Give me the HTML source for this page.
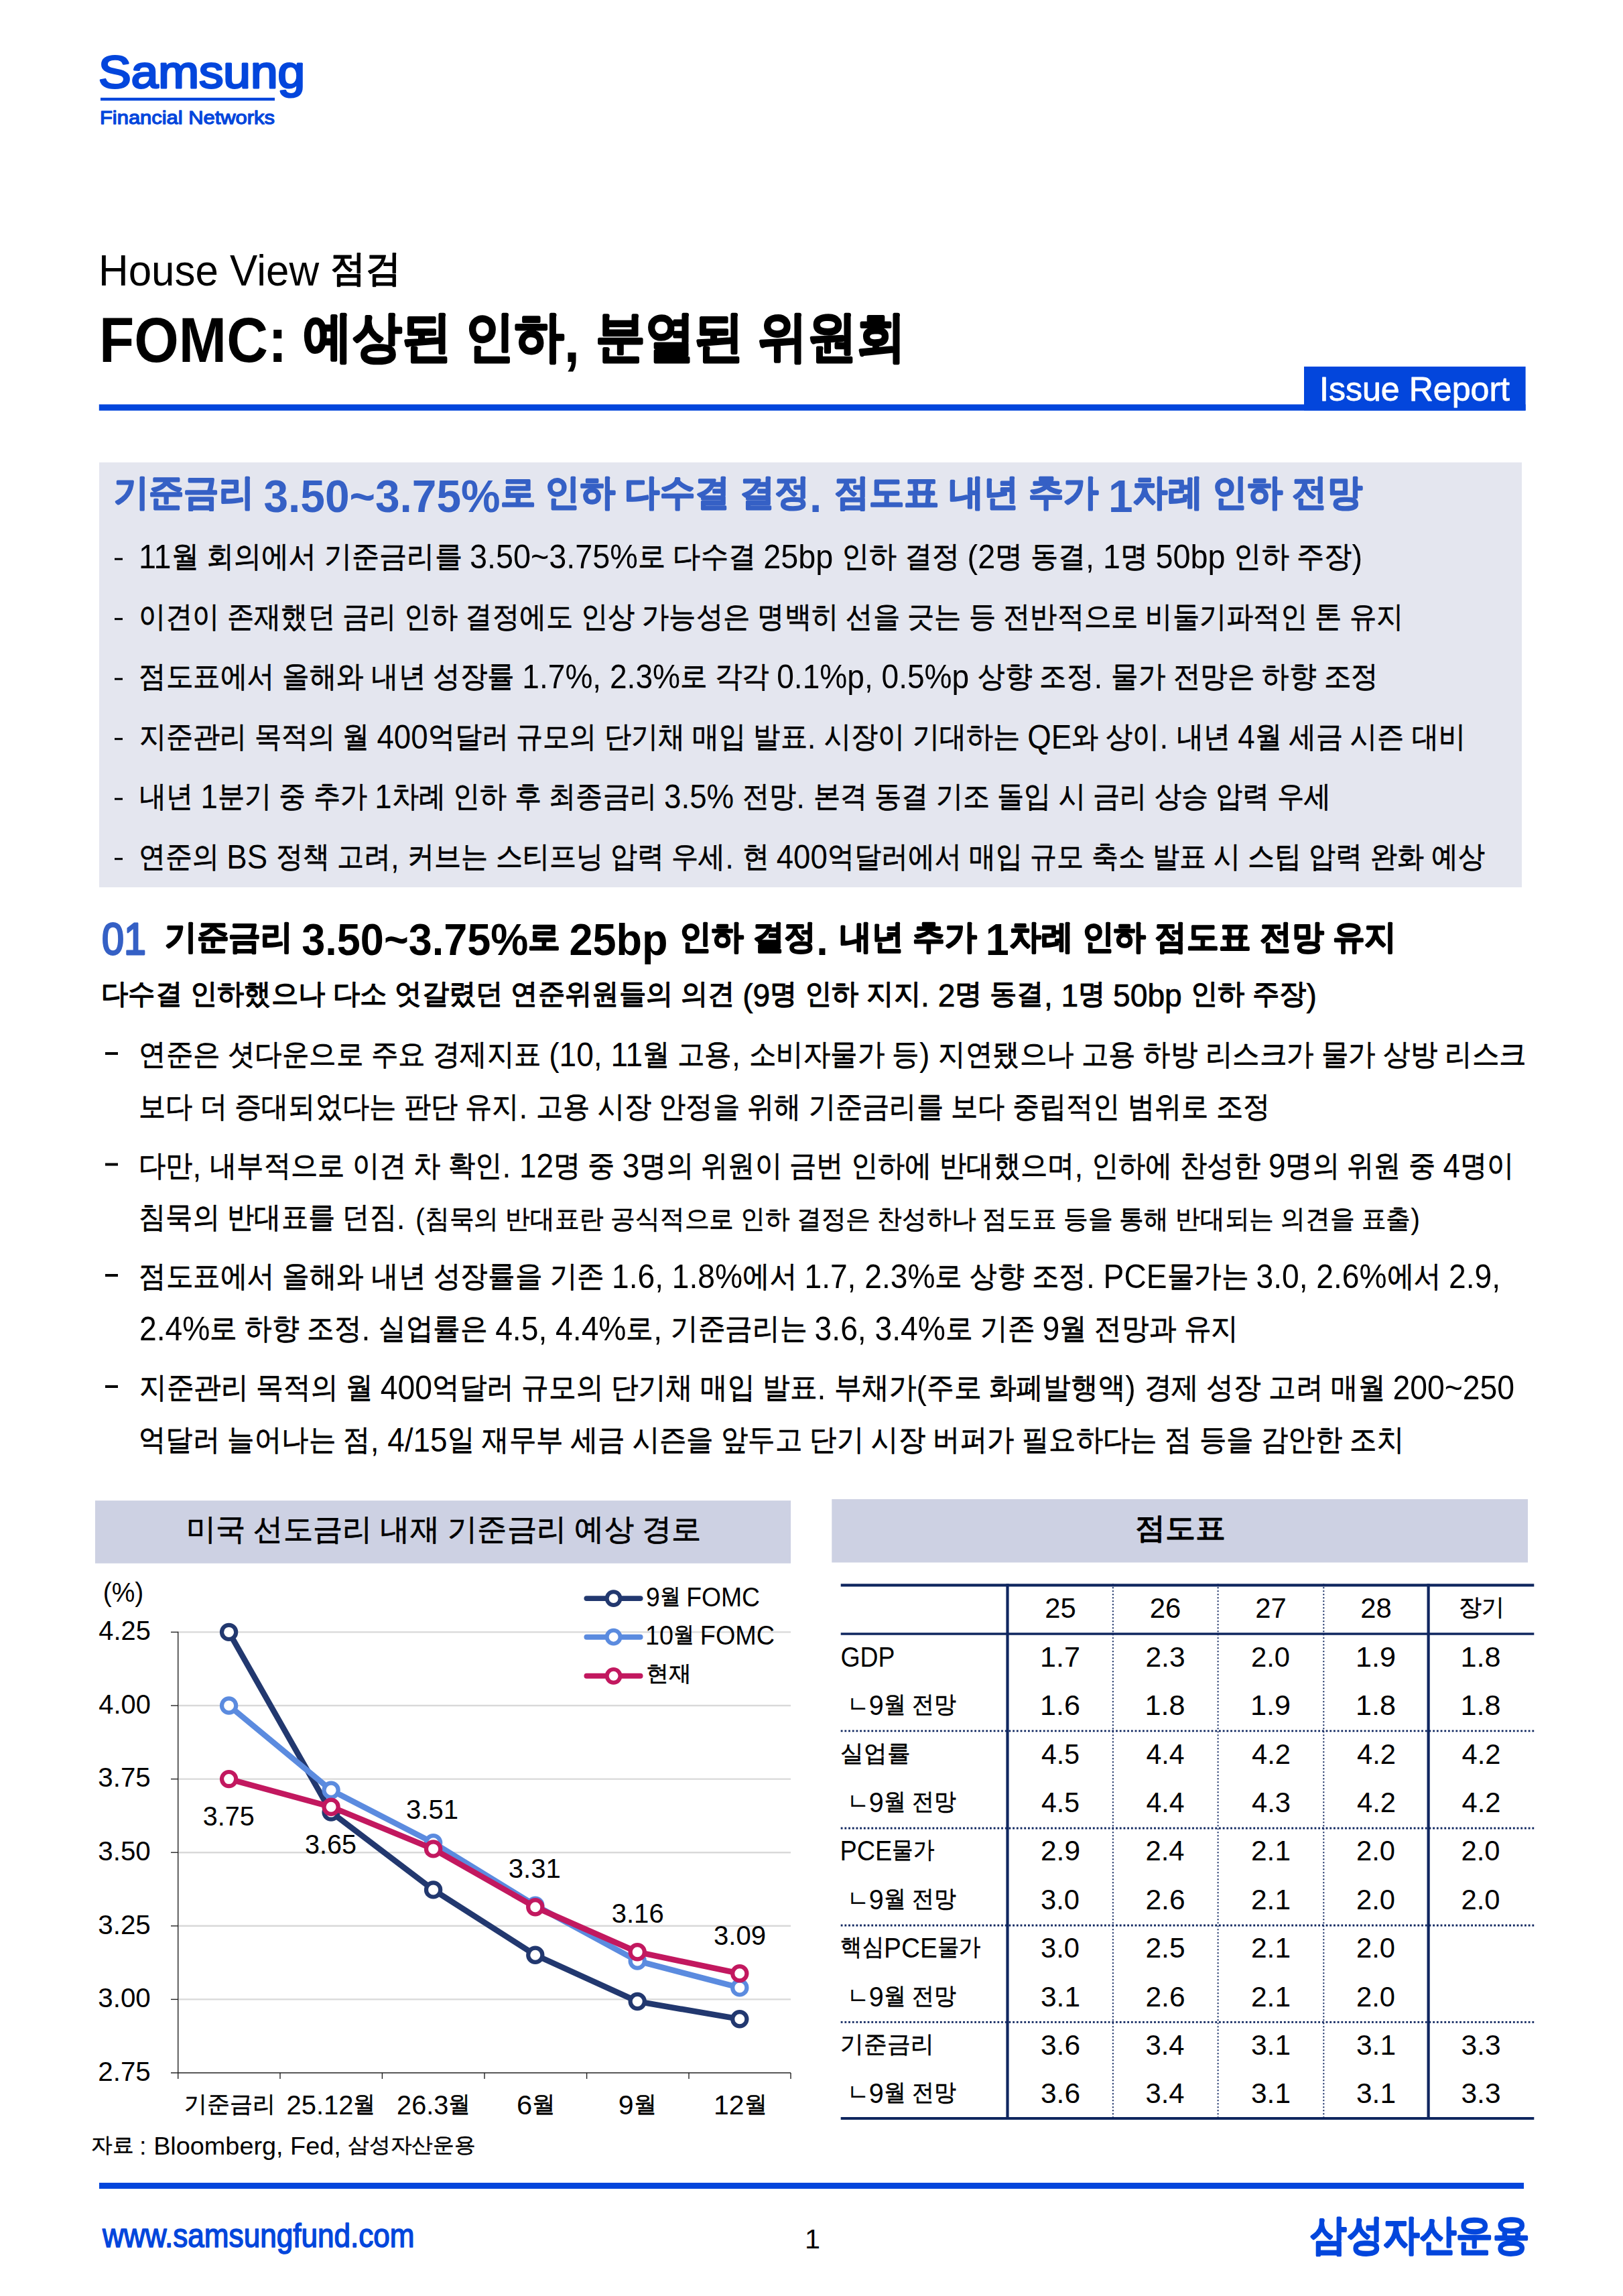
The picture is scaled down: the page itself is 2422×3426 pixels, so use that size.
<!DOCTYPE html>
<html><head><meta charset="utf-8"><title>FOMC: 예상된 인하, 분열된 위원회</title>
<style>
html,body{margin:0;padding:0;background:#fff;}
body{width:2422px;height:3426px;overflow:hidden;}
svg{display:block;}
text{font-family:"Liberation Sans",sans-serif;white-space:pre;}
.tofu .h{font-size:1.08em;baseline-shift:-0.04em;stroke-width:0.04em}.tofu text[font-weight="bold"] .h{stroke-width:0.06em}
</style></head><body>
<svg width="2422" height="3426" viewBox="0 0 2422 3426">
<rect x="0" y="0" width="2422" height="3426" fill="#fff"/>
<text x="147.0" y="131.2" font-size="68" fill="#0346dc" textLength="308.0" lengthAdjust="spacingAndGlyphs"><tspan stroke="#0346dc" stroke-width="3.00" stroke-linejoin="round">Samsung</tspan></text>
<rect x="150.0" y="145.8" width="260.0" height="4.4" fill="#0346dc"/>
<text x="149.0" y="184.6" font-size="28" fill="#0346dc" textLength="261.0" lengthAdjust="spacingAndGlyphs"><tspan stroke="#0346dc" stroke-width="1.30" stroke-linejoin="round">Financial Networks</tspan></text>
<text x="147.0" y="425.8" font-size="65" fill="#000" textLength="451.0" lengthAdjust="spacingAndGlyphs">House View <tspan class="h" font-size="55.0" baseline-shift="7.3" stroke="#000" stroke-width="1.80" stroke-linejoin="round">점검</tspan></text>
<text x="148.0" y="540.4" font-size="94" fill="#000" font-weight="bold" textLength="1204.0" lengthAdjust="spacingAndGlyphs">FOMC: <tspan class="h" font-size="81.2" baseline-shift="10.3" stroke="#000" stroke-width="2.82" stroke-linejoin="round">예상된 인하</tspan>, <tspan class="h" font-size="81.2" baseline-shift="10.3" stroke="#000" stroke-width="2.82" stroke-linejoin="round">분열된 위원회</tspan></text>
<rect x="147.8" y="603.4" width="2128.8" height="9.3" fill="#0346dc"/>
<rect x="1946.0" y="547.0" width="330.6" height="65.4" fill="#0346dc"/>
<text x="1969.0" y="597.6" font-size="50" fill="#fff" textLength="284.0" lengthAdjust="spacingAndGlyphs"><tspan stroke="#fff" stroke-width="0.80" stroke-linejoin="round">Issue Report</tspan></text>
<rect x="148.0" y="690.0" width="2123.0" height="634.0" fill="#e4e6ef"/>
<text x="170.0" y="763.6" font-size="68" fill="#3560c5" font-weight="bold" textLength="1863.0" lengthAdjust="spacingAndGlyphs"><tspan class="h" font-size="54.0" baseline-shift="10.8" stroke="#3560c5" stroke-width="2.04" stroke-linejoin="round">기준금리 </tspan>3.50~3.75%<tspan class="h" font-size="54.0" baseline-shift="10.8" stroke="#3560c5" stroke-width="2.04" stroke-linejoin="round">로 인하 다수결 결정</tspan>. <tspan class="h" font-size="54.0" baseline-shift="10.8" stroke="#3560c5" stroke-width="2.04" stroke-linejoin="round">점도표 내년 추가 </tspan>1<tspan class="h" font-size="54.0" baseline-shift="10.8" stroke="#3560c5" stroke-width="2.04" stroke-linejoin="round">차례 인하 전망</tspan></text>
<rect x="171.0" y="832.7" width="12.0" height="3.0" fill="#000"/>
<text x="207.0" y="848.2" font-size="50" fill="#000" textLength="1826.0" lengthAdjust="spacingAndGlyphs">11<tspan class="h" font-size="44.0" baseline-shift="2.8" stroke="#000" stroke-width="0.70" stroke-linejoin="round">월 회의에서 기준금리를 </tspan>3.50~3.75%<tspan class="h" font-size="44.0" baseline-shift="2.8" stroke="#000" stroke-width="0.70" stroke-linejoin="round">로 다수결 </tspan>25bp <tspan class="h" font-size="44.0" baseline-shift="2.8" stroke="#000" stroke-width="0.70" stroke-linejoin="round">인하 결정 </tspan>(2<tspan class="h" font-size="44.0" baseline-shift="2.8" stroke="#000" stroke-width="0.70" stroke-linejoin="round">명 동결</tspan>, 1<tspan class="h" font-size="44.0" baseline-shift="2.8" stroke="#000" stroke-width="0.70" stroke-linejoin="round">명 </tspan>50bp <tspan class="h" font-size="44.0" baseline-shift="2.8" stroke="#000" stroke-width="0.70" stroke-linejoin="round">인하 주장</tspan>)</text>
<rect x="171.0" y="922.2" width="12.0" height="3.0" fill="#000"/>
<text x="207.0" y="937.7" font-size="50" fill="#000" textLength="1887.0" lengthAdjust="spacingAndGlyphs"><tspan class="h" font-size="44.0" baseline-shift="2.8" stroke="#000" stroke-width="0.70" stroke-linejoin="round">이견이 존재했던 금리 인하 결정에도 인상 가능성은 명백히 선을 긋는 등 전반적으로 비둘기파적인 톤 유지</tspan></text>
<rect x="171.0" y="1011.7" width="12.0" height="3.0" fill="#000"/>
<text x="207.0" y="1027.2" font-size="50" fill="#000" textLength="1850.0" lengthAdjust="spacingAndGlyphs"><tspan class="h" font-size="44.0" baseline-shift="2.8" stroke="#000" stroke-width="0.70" stroke-linejoin="round">점도표에서 올해와 내년 성장률 </tspan>1.7%, 2.3%<tspan class="h" font-size="44.0" baseline-shift="2.8" stroke="#000" stroke-width="0.70" stroke-linejoin="round">로 각각 </tspan>0.1%p, 0.5%p <tspan class="h" font-size="44.0" baseline-shift="2.8" stroke="#000" stroke-width="0.70" stroke-linejoin="round">상향 조정</tspan>. <tspan class="h" font-size="44.0" baseline-shift="2.8" stroke="#000" stroke-width="0.70" stroke-linejoin="round">물가 전망은 하향 조정</tspan></text>
<rect x="171.0" y="1101.2" width="12.0" height="3.0" fill="#000"/>
<text x="208.0" y="1116.7" font-size="50" fill="#000" textLength="1979.0" lengthAdjust="spacingAndGlyphs"><tspan class="h" font-size="44.0" baseline-shift="2.8" stroke="#000" stroke-width="0.70" stroke-linejoin="round">지준관리 목적의 월 </tspan>400<tspan class="h" font-size="44.0" baseline-shift="2.8" stroke="#000" stroke-width="0.70" stroke-linejoin="round">억달러 규모의 단기채 매입 발표</tspan>. <tspan class="h" font-size="44.0" baseline-shift="2.8" stroke="#000" stroke-width="0.70" stroke-linejoin="round">시장이 기대하는 </tspan>QE<tspan class="h" font-size="44.0" baseline-shift="2.8" stroke="#000" stroke-width="0.70" stroke-linejoin="round">와 상이</tspan>. <tspan class="h" font-size="44.0" baseline-shift="2.8" stroke="#000" stroke-width="0.70" stroke-linejoin="round">내년 </tspan>4<tspan class="h" font-size="44.0" baseline-shift="2.8" stroke="#000" stroke-width="0.70" stroke-linejoin="round">월 세금 시즌 대비</tspan></text>
<rect x="171.0" y="1190.7" width="12.0" height="3.0" fill="#000"/>
<text x="208.0" y="1206.2" font-size="50" fill="#000" textLength="1778.0" lengthAdjust="spacingAndGlyphs"><tspan class="h" font-size="44.0" baseline-shift="2.8" stroke="#000" stroke-width="0.70" stroke-linejoin="round">내년 </tspan>1<tspan class="h" font-size="44.0" baseline-shift="2.8" stroke="#000" stroke-width="0.70" stroke-linejoin="round">분기 중 추가 </tspan>1<tspan class="h" font-size="44.0" baseline-shift="2.8" stroke="#000" stroke-width="0.70" stroke-linejoin="round">차례 인하 후 최종금리 </tspan>3.5% <tspan class="h" font-size="44.0" baseline-shift="2.8" stroke="#000" stroke-width="0.70" stroke-linejoin="round">전망</tspan>. <tspan class="h" font-size="44.0" baseline-shift="2.8" stroke="#000" stroke-width="0.70" stroke-linejoin="round">본격 동결 기조 돌입 시 금리 상승 압력 우세</tspan></text>
<rect x="171.0" y="1280.2" width="12.0" height="3.0" fill="#000"/>
<text x="207.0" y="1295.7" font-size="50" fill="#000" textLength="2009.0" lengthAdjust="spacingAndGlyphs"><tspan class="h" font-size="44.0" baseline-shift="2.8" stroke="#000" stroke-width="0.70" stroke-linejoin="round">연준의 </tspan>BS <tspan class="h" font-size="44.0" baseline-shift="2.8" stroke="#000" stroke-width="0.70" stroke-linejoin="round">정책 고려</tspan>, <tspan class="h" font-size="44.0" baseline-shift="2.8" stroke="#000" stroke-width="0.70" stroke-linejoin="round">커브는 스티프닝 압력 우세</tspan>. <tspan class="h" font-size="44.0" baseline-shift="2.8" stroke="#000" stroke-width="0.70" stroke-linejoin="round">현 </tspan>400<tspan class="h" font-size="44.0" baseline-shift="2.8" stroke="#000" stroke-width="0.70" stroke-linejoin="round">억달러에서 매입 규모 축소 발표 시 스팁 압력 완화 예상</tspan></text>
<text x="152.0" y="1423.6" font-size="67" fill="#3560c5" textLength="66.0" lengthAdjust="spacingAndGlyphs"><tspan stroke="#3560c5" stroke-width="2.80" stroke-linejoin="round">01</tspan></text>
<text x="246.0" y="1424.5" font-size="66" fill="#000" font-weight="bold" textLength="1838.0" lengthAdjust="spacingAndGlyphs"><tspan class="h" font-size="50.0" baseline-shift="9.9" stroke="#000" stroke-width="1.98" stroke-linejoin="round">기준금리 </tspan>3.50~3.75%<tspan class="h" font-size="50.0" baseline-shift="9.9" stroke="#000" stroke-width="1.98" stroke-linejoin="round">로 </tspan>25bp <tspan class="h" font-size="50.0" baseline-shift="9.9" stroke="#000" stroke-width="1.98" stroke-linejoin="round">인하 결정</tspan>. <tspan class="h" font-size="50.0" baseline-shift="9.9" stroke="#000" stroke-width="1.98" stroke-linejoin="round">내년 추가 </tspan>1<tspan class="h" font-size="50.0" baseline-shift="9.9" stroke="#000" stroke-width="1.98" stroke-linejoin="round">차례 인하 점도표 전망 유지</tspan></text>
<text x="151.0" y="1502.0" font-size="48" fill="#000" textLength="1814.0" lengthAdjust="spacingAndGlyphs"><tspan class="h" font-size="42.4" baseline-shift="5.1" stroke="#000" stroke-width="1.44" stroke-linejoin="round">다수결 인하했으나 다소 엇갈렸던 연준위원들의 의견 </tspan><tspan stroke="#000" stroke-width="0.70" stroke-linejoin="round">(9</tspan><tspan class="h" font-size="42.4" baseline-shift="5.1" stroke="#000" stroke-width="1.44" stroke-linejoin="round">명 인하 지지</tspan><tspan stroke="#000" stroke-width="0.70" stroke-linejoin="round">. 2</tspan><tspan class="h" font-size="42.4" baseline-shift="5.1" stroke="#000" stroke-width="1.44" stroke-linejoin="round">명 동결</tspan><tspan stroke="#000" stroke-width="0.70" stroke-linejoin="round">, 1</tspan><tspan class="h" font-size="42.4" baseline-shift="5.1" stroke="#000" stroke-width="1.44" stroke-linejoin="round">명 </tspan><tspan stroke="#000" stroke-width="0.70" stroke-linejoin="round">50bp </tspan><tspan class="h" font-size="42.4" baseline-shift="5.1" stroke="#000" stroke-width="1.44" stroke-linejoin="round">인하 주장</tspan><tspan stroke="#000" stroke-width="0.70" stroke-linejoin="round">)</tspan></text>
<rect x="157.0" y="1570.0" width="19.0" height="4.0" fill="#000"/>
<text x="207.0" y="1591.0" font-size="50" fill="#000" textLength="2071.0" lengthAdjust="spacingAndGlyphs"><tspan class="h" font-size="44.0" baseline-shift="2.8" stroke="#000" stroke-width="0.70" stroke-linejoin="round">연준은 셧다운으로 주요 경제지표 </tspan>(10, 11<tspan class="h" font-size="44.0" baseline-shift="2.8" stroke="#000" stroke-width="0.70" stroke-linejoin="round">월 고용</tspan>, <tspan class="h" font-size="44.0" baseline-shift="2.8" stroke="#000" stroke-width="0.70" stroke-linejoin="round">소비자물가 등</tspan>) <tspan class="h" font-size="44.0" baseline-shift="2.8" stroke="#000" stroke-width="0.70" stroke-linejoin="round">지연됐으나 고용 하방 리스크가 물가 상방 리스크</tspan></text>
<text x="207.0" y="1668.5" font-size="50" fill="#000" textLength="1688.0" lengthAdjust="spacingAndGlyphs"><tspan class="h" font-size="44.0" baseline-shift="2.8" stroke="#000" stroke-width="0.70" stroke-linejoin="round">보다 더 증대되었다는 판단 유지</tspan>. <tspan class="h" font-size="44.0" baseline-shift="2.8" stroke="#000" stroke-width="0.70" stroke-linejoin="round">고용 시장 안정을 위해 기준금리를 보다 중립적인 범위로 조정</tspan></text>
<rect x="157.0" y="1735.5" width="19.0" height="4.0" fill="#000"/>
<text x="207.0" y="1756.5" font-size="50" fill="#000" textLength="2052.5" lengthAdjust="spacingAndGlyphs"><tspan class="h" font-size="44.0" baseline-shift="2.8" stroke="#000" stroke-width="0.70" stroke-linejoin="round">다만</tspan>, <tspan class="h" font-size="44.0" baseline-shift="2.8" stroke="#000" stroke-width="0.70" stroke-linejoin="round">내부적으로 이견 차 확인</tspan>. 12<tspan class="h" font-size="44.0" baseline-shift="2.8" stroke="#000" stroke-width="0.70" stroke-linejoin="round">명 중 </tspan>3<tspan class="h" font-size="44.0" baseline-shift="2.8" stroke="#000" stroke-width="0.70" stroke-linejoin="round">명의 위원이 금번 인하에 반대했으며</tspan>, <tspan class="h" font-size="44.0" baseline-shift="2.8" stroke="#000" stroke-width="0.70" stroke-linejoin="round">인하에 찬성한 </tspan>9<tspan class="h" font-size="44.0" baseline-shift="2.8" stroke="#000" stroke-width="0.70" stroke-linejoin="round">명의 위원 중 </tspan>4<tspan class="h" font-size="44.0" baseline-shift="2.8" stroke="#000" stroke-width="0.70" stroke-linejoin="round">명이</tspan></text>
<text x="207.0" y="1834.0" font-size="50" fill="#000" textLength="397.5" lengthAdjust="spacingAndGlyphs"><tspan class="h" font-size="44.0" baseline-shift="2.8" stroke="#000" stroke-width="0.70" stroke-linejoin="round">침묵의 반대표를 던짐</tspan>.</text>
<text x="620.0" y="1834.0" font-size="44" fill="#000" textLength="1499.0" lengthAdjust="spacingAndGlyphs">(<tspan class="h" font-size="38.7" baseline-shift="2.5" stroke="#000" stroke-width="0.62" stroke-linejoin="round">침묵의 반대표란 공식적으로 인하 결정은 찬성하나 점도표 등을 통해 반대되는 의견을 표출</tspan>)</text>
<rect x="157.0" y="1901.0" width="19.0" height="4.0" fill="#000"/>
<text x="207.0" y="1922.0" font-size="50" fill="#000" textLength="2032.0" lengthAdjust="spacingAndGlyphs"><tspan class="h" font-size="44.0" baseline-shift="2.8" stroke="#000" stroke-width="0.70" stroke-linejoin="round">점도표에서 올해와 내년 성장률을 기존 </tspan>1.6, 1.8%<tspan class="h" font-size="44.0" baseline-shift="2.8" stroke="#000" stroke-width="0.70" stroke-linejoin="round">에서 </tspan>1.7, 2.3%<tspan class="h" font-size="44.0" baseline-shift="2.8" stroke="#000" stroke-width="0.70" stroke-linejoin="round">로 상향 조정</tspan>. PCE<tspan class="h" font-size="44.0" baseline-shift="2.8" stroke="#000" stroke-width="0.70" stroke-linejoin="round">물가는 </tspan>3.0, 2.6%<tspan class="h" font-size="44.0" baseline-shift="2.8" stroke="#000" stroke-width="0.70" stroke-linejoin="round">에서 </tspan>2.9,</text>
<text x="208.0" y="2000.0" font-size="50" fill="#000" textLength="1640.0" lengthAdjust="spacingAndGlyphs">2.4%<tspan class="h" font-size="44.0" baseline-shift="2.8" stroke="#000" stroke-width="0.70" stroke-linejoin="round">로 하향 조정</tspan>. <tspan class="h" font-size="44.0" baseline-shift="2.8" stroke="#000" stroke-width="0.70" stroke-linejoin="round">실업률은 </tspan>4.5, 4.4%<tspan class="h" font-size="44.0" baseline-shift="2.8" stroke="#000" stroke-width="0.70" stroke-linejoin="round">로</tspan>, <tspan class="h" font-size="44.0" baseline-shift="2.8" stroke="#000" stroke-width="0.70" stroke-linejoin="round">기준금리는 </tspan>3.6, 3.4%<tspan class="h" font-size="44.0" baseline-shift="2.8" stroke="#000" stroke-width="0.70" stroke-linejoin="round">로 기존 </tspan>9<tspan class="h" font-size="44.0" baseline-shift="2.8" stroke="#000" stroke-width="0.70" stroke-linejoin="round">월 전망과 유지</tspan></text>
<rect x="157.0" y="2067.0" width="19.0" height="4.0" fill="#000"/>
<text x="208.0" y="2088.0" font-size="50" fill="#000" textLength="2052.0" lengthAdjust="spacingAndGlyphs"><tspan class="h" font-size="44.0" baseline-shift="2.8" stroke="#000" stroke-width="0.70" stroke-linejoin="round">지준관리 목적의 월 </tspan>400<tspan class="h" font-size="44.0" baseline-shift="2.8" stroke="#000" stroke-width="0.70" stroke-linejoin="round">억달러 규모의 단기채 매입 발표</tspan>. <tspan class="h" font-size="44.0" baseline-shift="2.8" stroke="#000" stroke-width="0.70" stroke-linejoin="round">부채가</tspan>(<tspan class="h" font-size="44.0" baseline-shift="2.8" stroke="#000" stroke-width="0.70" stroke-linejoin="round">주로 화폐발행액</tspan>) <tspan class="h" font-size="44.0" baseline-shift="2.8" stroke="#000" stroke-width="0.70" stroke-linejoin="round">경제 성장 고려 매월 </tspan>200~250</text>
<text x="207.0" y="2166.0" font-size="50" fill="#000" textLength="1888.0" lengthAdjust="spacingAndGlyphs"><tspan class="h" font-size="44.0" baseline-shift="2.8" stroke="#000" stroke-width="0.70" stroke-linejoin="round">억달러 늘어나는 점</tspan>, 4/15<tspan class="h" font-size="44.0" baseline-shift="2.8" stroke="#000" stroke-width="0.70" stroke-linejoin="round">일 재무부 세금 시즌을 앞두고 단기 시장 버퍼가 필요하다는 점 등을 감안한 조치</tspan></text>
<rect x="142.0" y="2239.1" width="1038.1" height="93.7" fill="#cdd1e3"/>
<text x="277.6" y="2302.4" font-size="54" fill="#000" textLength="769.0" lengthAdjust="spacingAndGlyphs"><tspan class="h" font-size="44.8" baseline-shift="5.4" stroke="#000" stroke-width="0.76" stroke-linejoin="round">미국 선도금리 내재 기준금리 예상 경로</tspan></text>
<line x1="265.7" y1="2435.4" x2="1180.0" y2="2435.4" stroke="#d9d9d9" stroke-width="2.4" />
<line x1="255.0" y1="2435.4" x2="265.7" y2="2435.4" stroke="#222" stroke-width="1.4" />
<line x1="265.7" y1="2545.0" x2="1180.0" y2="2545.0" stroke="#d9d9d9" stroke-width="2.4" />
<line x1="255.0" y1="2545.0" x2="265.7" y2="2545.0" stroke="#222" stroke-width="1.4" />
<line x1="265.7" y1="2654.6" x2="1180.0" y2="2654.6" stroke="#d9d9d9" stroke-width="2.4" />
<line x1="255.0" y1="2654.6" x2="265.7" y2="2654.6" stroke="#222" stroke-width="1.4" />
<line x1="265.7" y1="2764.2" x2="1180.0" y2="2764.2" stroke="#d9d9d9" stroke-width="2.4" />
<line x1="255.0" y1="2764.2" x2="265.7" y2="2764.2" stroke="#222" stroke-width="1.4" />
<line x1="265.7" y1="2873.8" x2="1180.0" y2="2873.8" stroke="#d9d9d9" stroke-width="2.4" />
<line x1="255.0" y1="2873.8" x2="265.7" y2="2873.8" stroke="#222" stroke-width="1.4" />
<line x1="265.7" y1="2983.4" x2="1180.0" y2="2983.4" stroke="#d9d9d9" stroke-width="2.4" />
<line x1="255.0" y1="2983.4" x2="265.7" y2="2983.4" stroke="#222" stroke-width="1.4" />
<line x1="265.7" y1="2434.7" x2="265.7" y2="3093.0" stroke="#222" stroke-width="1.4" />
<line x1="255.0" y1="3093.0" x2="1180.0" y2="3093.0" stroke="#222" stroke-width="1.4" />
<line x1="265.7" y1="3093.0" x2="265.7" y2="3102.0" stroke="#222" stroke-width="1.4" />
<line x1="418.0" y1="3093.0" x2="418.0" y2="3102.0" stroke="#222" stroke-width="1.4" />
<line x1="570.4" y1="3093.0" x2="570.4" y2="3102.0" stroke="#222" stroke-width="1.4" />
<line x1="723.0" y1="3093.0" x2="723.0" y2="3102.0" stroke="#222" stroke-width="1.4" />
<line x1="875.6" y1="3093.0" x2="875.6" y2="3102.0" stroke="#222" stroke-width="1.4" />
<line x1="1028.0" y1="3093.0" x2="1028.0" y2="3102.0" stroke="#222" stroke-width="1.4" />
<line x1="1180.0" y1="3093.0" x2="1180.0" y2="3102.0" stroke="#222" stroke-width="1.4" />
<text x="147.3" y="2447.1" font-size="41" fill="#000" textLength="77.5" lengthAdjust="spacingAndGlyphs">4.25</text>
<text x="147.3" y="2556.7" font-size="41" fill="#000" textLength="77.5" lengthAdjust="spacingAndGlyphs">4.00</text>
<text x="146.3" y="2666.3" font-size="41" fill="#000" textLength="78.5" lengthAdjust="spacingAndGlyphs">3.75</text>
<text x="146.3" y="2775.9" font-size="41" fill="#000" textLength="78.5" lengthAdjust="spacingAndGlyphs">3.50</text>
<text x="146.3" y="2885.5" font-size="41" fill="#000" textLength="78.5" lengthAdjust="spacingAndGlyphs">3.25</text>
<text x="146.3" y="2995.1" font-size="41" fill="#000" textLength="78.5" lengthAdjust="spacingAndGlyphs">3.00</text>
<text x="146.3" y="3104.7" font-size="41" fill="#000" textLength="78.5" lengthAdjust="spacingAndGlyphs">2.75</text>
<text x="153.7" y="2389.7" font-size="40" fill="#000" textLength="60.5" lengthAdjust="spacingAndGlyphs">(%)</text>
<polyline points="341.6,2435.4 494.1,2704.1 646.6,2819.9 798.8,2917.2 951.2,2986.5 1103.8,3012.8" fill="none" stroke="#22386f" stroke-width="8.6" stroke-linejoin="round"/>
<circle cx="341.6" cy="2435.4" r="10.6" fill="#fff" stroke="#22386f" stroke-width="6.2"/>
<circle cx="494.1" cy="2704.1" r="10.6" fill="#fff" stroke="#22386f" stroke-width="6.2"/>
<circle cx="646.6" cy="2819.9" r="10.6" fill="#fff" stroke="#22386f" stroke-width="6.2"/>
<circle cx="798.8" cy="2917.2" r="10.6" fill="#fff" stroke="#22386f" stroke-width="6.2"/>
<circle cx="951.2" cy="2986.5" r="10.6" fill="#fff" stroke="#22386f" stroke-width="6.2"/>
<circle cx="1103.8" cy="3012.8" r="10.6" fill="#fff" stroke="#22386f" stroke-width="6.2"/>
<polyline points="341.6,2545.0 494.1,2671.3 646.6,2749.7 798.8,2843.1 951.2,2926.0 1103.8,2965.9" fill="none" stroke="#5b8bdf" stroke-width="8.6" stroke-linejoin="round"/>
<circle cx="341.6" cy="2545.0" r="10.6" fill="#fff" stroke="#5b8bdf" stroke-width="6.2"/>
<circle cx="494.1" cy="2671.3" r="10.6" fill="#fff" stroke="#5b8bdf" stroke-width="6.2"/>
<circle cx="646.6" cy="2749.7" r="10.6" fill="#fff" stroke="#5b8bdf" stroke-width="6.2"/>
<circle cx="798.8" cy="2843.1" r="10.6" fill="#fff" stroke="#5b8bdf" stroke-width="6.2"/>
<circle cx="951.2" cy="2926.0" r="10.6" fill="#fff" stroke="#5b8bdf" stroke-width="6.2"/>
<circle cx="1103.8" cy="2965.9" r="10.6" fill="#fff" stroke="#5b8bdf" stroke-width="6.2"/>
<polyline points="341.6,2654.6 494.1,2696.2 646.6,2758.9 798.8,2845.7 951.2,2912.8 1103.8,2944.8" fill="none" stroke="#c2185f" stroke-width="8.6" stroke-linejoin="round"/>
<circle cx="341.6" cy="2654.6" r="10.6" fill="#fff" stroke="#c2185f" stroke-width="6.2"/>
<circle cx="494.1" cy="2696.2" r="10.6" fill="#fff" stroke="#c2185f" stroke-width="6.2"/>
<circle cx="646.6" cy="2758.9" r="10.6" fill="#fff" stroke="#c2185f" stroke-width="6.2"/>
<circle cx="798.8" cy="2845.7" r="10.6" fill="#fff" stroke="#c2185f" stroke-width="6.2"/>
<circle cx="951.2" cy="2912.8" r="10.6" fill="#fff" stroke="#c2185f" stroke-width="6.2"/>
<circle cx="1103.8" cy="2944.8" r="10.6" fill="#fff" stroke="#c2185f" stroke-width="6.2"/>
<text x="302.7" y="2724.0" font-size="40" fill="#000" textLength="77.0" lengthAdjust="spacingAndGlyphs">3.75</text>
<text x="455.0" y="2766.0" font-size="40" fill="#000" textLength="77.0" lengthAdjust="spacingAndGlyphs">3.65</text>
<text x="606.0" y="2714.2" font-size="40" fill="#000" textLength="78.0" lengthAdjust="spacingAndGlyphs">3.51</text>
<text x="758.8" y="2801.6" font-size="40" fill="#000" textLength="78.0" lengthAdjust="spacingAndGlyphs">3.31</text>
<text x="912.7" y="2869.4" font-size="40" fill="#000" textLength="78.0" lengthAdjust="spacingAndGlyphs">3.16</text>
<text x="1065.0" y="2901.7" font-size="40" fill="#000" textLength="78.0" lengthAdjust="spacingAndGlyphs">3.09</text>
<text x="274.9" y="3155.0" font-size="41" fill="#000" textLength="136.0" lengthAdjust="spacingAndGlyphs"><tspan class="h" font-size="34.0" baseline-shift="4.1" stroke="#000" stroke-width="0.57" stroke-linejoin="round">기준금리</tspan></text>
<text x="427.6" y="3155.0" font-size="41" fill="#000" textLength="133.0" lengthAdjust="spacingAndGlyphs">25.12<tspan class="h" font-size="34.0" baseline-shift="4.1" stroke="#000" stroke-width="0.57" stroke-linejoin="round">월</tspan></text>
<text x="592.1" y="3155.0" font-size="41" fill="#000" textLength="110.0" lengthAdjust="spacingAndGlyphs">26.3<tspan class="h" font-size="34.0" baseline-shift="4.1" stroke="#000" stroke-width="0.57" stroke-linejoin="round">월</tspan></text>
<text x="770.9" y="3155.0" font-size="41" fill="#000" textLength="58.0" lengthAdjust="spacingAndGlyphs">6<tspan class="h" font-size="34.0" baseline-shift="4.1" stroke="#000" stroke-width="0.57" stroke-linejoin="round">월</tspan></text>
<text x="922.8" y="3155.0" font-size="41" fill="#000" textLength="57.0" lengthAdjust="spacingAndGlyphs">9<tspan class="h" font-size="34.0" baseline-shift="4.1" stroke="#000" stroke-width="0.57" stroke-linejoin="round">월</tspan></text>
<text x="1065.0" y="3155.0" font-size="41" fill="#000" textLength="79.5" lengthAdjust="spacingAndGlyphs">12<tspan class="h" font-size="34.0" baseline-shift="4.1" stroke="#000" stroke-width="0.57" stroke-linejoin="round">월</tspan></text>
<line x1="875.4" y1="2385.1" x2="955.6" y2="2385.1" stroke="#22386f" stroke-width="7.9" stroke-linecap="round"/>
<circle cx="915.6" cy="2385.1" r="9.9" fill="#fff" stroke="#22386f" stroke-width="5.9"/>
<text x="964.0" y="2396.7" font-size="40" fill="#000" textLength="170.0" lengthAdjust="spacingAndGlyphs">9<tspan class="h" font-size="33.2" baseline-shift="4.0" stroke="#000" stroke-width="0.56" stroke-linejoin="round">월 </tspan>FOMC</text>
<line x1="875.4" y1="2442.7" x2="955.6" y2="2442.7" stroke="#5b8bdf" stroke-width="7.9" stroke-linecap="round"/>
<circle cx="915.6" cy="2442.7" r="9.9" fill="#fff" stroke="#5b8bdf" stroke-width="5.9"/>
<text x="963.0" y="2454.3" font-size="40" fill="#000" textLength="193.0" lengthAdjust="spacingAndGlyphs">10<tspan class="h" font-size="33.2" baseline-shift="4.0" stroke="#000" stroke-width="0.56" stroke-linejoin="round">월 </tspan>FOMC</text>
<line x1="875.4" y1="2500.8" x2="955.6" y2="2500.8" stroke="#c2185f" stroke-width="7.9" stroke-linecap="round"/>
<circle cx="915.6" cy="2500.8" r="9.9" fill="#fff" stroke="#c2185f" stroke-width="5.9"/>
<text x="964.0" y="2512.4" font-size="40" fill="#000" textLength="68.0" lengthAdjust="spacingAndGlyphs"><tspan class="h" font-size="33.2" baseline-shift="4.0" stroke="#000" stroke-width="0.56" stroke-linejoin="round">현재</tspan></text>
<text x="136.0" y="3214.5" font-size="37" fill="#000" textLength="573.5" lengthAdjust="spacingAndGlyphs"><tspan class="h" font-size="30.7" baseline-shift="3.7" stroke="#000" stroke-width="0.52" stroke-linejoin="round">자료 </tspan>: Bloomberg, Fed, <tspan class="h" font-size="30.7" baseline-shift="3.7" stroke="#000" stroke-width="0.52" stroke-linejoin="round">삼성자산운용</tspan></text>
<rect x="1241.3" y="2237.0" width="1038.7" height="94.5" fill="#cdd1e3"/>
<text x="1693.8" y="2299.7" font-size="53" fill="#000" textLength="135.0" lengthAdjust="spacingAndGlyphs"><tspan class="h" font-size="44.0" baseline-shift="5.3" stroke="#000" stroke-width="1.60" stroke-linejoin="round">점도표</tspan></text>
<line x1="1254.7" y1="2365.4" x2="2289.3" y2="2365.4" stroke="#0f265f" stroke-width="4.2" />
<line x1="1254.7" y1="2438.0" x2="2289.3" y2="2438.0" stroke="#0f265f" stroke-width="3.6" />
<line x1="1254.7" y1="2582.9" x2="2289.3" y2="2582.9" stroke="#0f265f" stroke-width="2.8" stroke-dasharray="2.8 2.9"/>
<line x1="1254.7" y1="2728.0" x2="2289.3" y2="2728.0" stroke="#0f265f" stroke-width="2.8" stroke-dasharray="2.8 2.9"/>
<line x1="1254.7" y1="2873.0" x2="2289.3" y2="2873.0" stroke="#0f265f" stroke-width="2.8" stroke-dasharray="2.8 2.9"/>
<line x1="1254.7" y1="3017.4" x2="2289.3" y2="3017.4" stroke="#0f265f" stroke-width="2.8" stroke-dasharray="2.8 2.9"/>
<line x1="1254.7" y1="3161.0" x2="2289.3" y2="3161.0" stroke="#0f265f" stroke-width="4.2" />
<line x1="1503.5" y1="2363.3" x2="1503.5" y2="3163.0" stroke="#0f265f" stroke-width="4.2" />
<line x1="2131.6" y1="2363.3" x2="2131.6" y2="3163.0" stroke="#0f265f" stroke-width="4.2" />
<line x1="1660.9" y1="2363.3" x2="1660.9" y2="3163.0" stroke="#0f265f" stroke-width="2.0" stroke-dasharray="2 3"/>
<line x1="1817.6" y1="2363.3" x2="1817.6" y2="3163.0" stroke="#0f265f" stroke-width="2.0" stroke-dasharray="2 3"/>
<line x1="1975.3" y1="2363.3" x2="1975.3" y2="3163.0" stroke="#0f265f" stroke-width="2.0" stroke-dasharray="2 3"/>
<text x="1559.2" y="2414.3" font-size="42" fill="#000" textLength="46.5" lengthAdjust="spacingAndGlyphs">25</text>
<text x="1715.8" y="2414.3" font-size="42" fill="#000" textLength="46.5" lengthAdjust="spacingAndGlyphs">26</text>
<text x="1873.2" y="2414.3" font-size="42" fill="#000" textLength="46.5" lengthAdjust="spacingAndGlyphs">27</text>
<text x="2030.2" y="2414.3" font-size="42" fill="#000" textLength="46.5" lengthAdjust="spacingAndGlyphs">28</text>
<text x="2177.0" y="2414.3" font-size="42" fill="#000" textLength="68.0" lengthAdjust="spacingAndGlyphs"><tspan class="h" font-size="34.9" baseline-shift="4.2" stroke="#000" stroke-width="0.59" stroke-linejoin="round">장기</tspan></text>
<text x="1254.4" y="2486.8" font-size="42" fill="#000" textLength="81.0" lengthAdjust="spacingAndGlyphs">GDP</text>
<text x="1552.0" y="2486.8" font-size="42" fill="#000" textLength="60.0" lengthAdjust="spacingAndGlyphs">1.7</text>
<text x="1709.5" y="2486.8" font-size="42" fill="#000" textLength="59.0" lengthAdjust="spacingAndGlyphs">2.3</text>
<text x="1867.0" y="2486.8" font-size="42" fill="#000" textLength="58.0" lengthAdjust="spacingAndGlyphs">2.0</text>
<text x="2023.0" y="2486.8" font-size="42" fill="#000" textLength="60.0" lengthAdjust="spacingAndGlyphs">1.9</text>
<text x="2179.5" y="2486.8" font-size="42" fill="#000" textLength="60.0" lengthAdjust="spacingAndGlyphs">1.8</text>
<text x="1263.8" y="2559.2" font-size="42" fill="#000" textLength="163.0" lengthAdjust="spacingAndGlyphs"><tspan class="h" font-size="34.9" baseline-shift="4.2" stroke="#000" stroke-width="0.59" stroke-linejoin="round">ㄴ</tspan>9<tspan class="h" font-size="34.9" baseline-shift="4.2" stroke="#000" stroke-width="0.59" stroke-linejoin="round">월 전망</tspan></text>
<text x="1552.0" y="2559.2" font-size="42" fill="#000" textLength="60.0" lengthAdjust="spacingAndGlyphs">1.6</text>
<text x="1708.5" y="2559.2" font-size="42" fill="#000" textLength="60.0" lengthAdjust="spacingAndGlyphs">1.8</text>
<text x="1866.0" y="2559.2" font-size="42" fill="#000" textLength="60.0" lengthAdjust="spacingAndGlyphs">1.9</text>
<text x="2023.0" y="2559.2" font-size="42" fill="#000" textLength="60.0" lengthAdjust="spacingAndGlyphs">1.8</text>
<text x="2179.5" y="2559.2" font-size="42" fill="#000" textLength="60.0" lengthAdjust="spacingAndGlyphs">1.8</text>
<text x="1254.4" y="2631.6" font-size="42" fill="#000" textLength="104.0" lengthAdjust="spacingAndGlyphs"><tspan class="h" font-size="34.9" baseline-shift="4.2" stroke="#000" stroke-width="0.59" stroke-linejoin="round">실업률</tspan></text>
<text x="1554.0" y="2631.6" font-size="42" fill="#000" textLength="57.0" lengthAdjust="spacingAndGlyphs">4.5</text>
<text x="1710.5" y="2631.6" font-size="42" fill="#000" textLength="57.0" lengthAdjust="spacingAndGlyphs">4.4</text>
<text x="1868.0" y="2631.6" font-size="42" fill="#000" textLength="58.0" lengthAdjust="spacingAndGlyphs">4.2</text>
<text x="2025.0" y="2631.6" font-size="42" fill="#000" textLength="58.0" lengthAdjust="spacingAndGlyphs">4.2</text>
<text x="2181.5" y="2631.6" font-size="42" fill="#000" textLength="58.0" lengthAdjust="spacingAndGlyphs">4.2</text>
<text x="1263.8" y="2704.0" font-size="42" fill="#000" textLength="163.0" lengthAdjust="spacingAndGlyphs"><tspan class="h" font-size="34.9" baseline-shift="4.2" stroke="#000" stroke-width="0.59" stroke-linejoin="round">ㄴ</tspan>9<tspan class="h" font-size="34.9" baseline-shift="4.2" stroke="#000" stroke-width="0.59" stroke-linejoin="round">월 전망</tspan></text>
<text x="1554.0" y="2704.0" font-size="42" fill="#000" textLength="57.0" lengthAdjust="spacingAndGlyphs">4.5</text>
<text x="1710.5" y="2704.0" font-size="42" fill="#000" textLength="57.0" lengthAdjust="spacingAndGlyphs">4.4</text>
<text x="1868.0" y="2704.0" font-size="42" fill="#000" textLength="58.0" lengthAdjust="spacingAndGlyphs">4.3</text>
<text x="2025.0" y="2704.0" font-size="42" fill="#000" textLength="58.0" lengthAdjust="spacingAndGlyphs">4.2</text>
<text x="2181.5" y="2704.0" font-size="42" fill="#000" textLength="58.0" lengthAdjust="spacingAndGlyphs">4.2</text>
<text x="1253.4" y="2776.4" font-size="42" fill="#000" textLength="141.0" lengthAdjust="spacingAndGlyphs">PCE<tspan class="h" font-size="34.9" baseline-shift="4.2" stroke="#000" stroke-width="0.59" stroke-linejoin="round">물가</tspan></text>
<text x="1553.0" y="2776.4" font-size="42" fill="#000" textLength="59.0" lengthAdjust="spacingAndGlyphs">2.9</text>
<text x="1709.5" y="2776.4" font-size="42" fill="#000" textLength="58.0" lengthAdjust="spacingAndGlyphs">2.4</text>
<text x="1867.0" y="2776.4" font-size="42" fill="#000" textLength="59.0" lengthAdjust="spacingAndGlyphs">2.1</text>
<text x="2024.0" y="2776.4" font-size="42" fill="#000" textLength="58.0" lengthAdjust="spacingAndGlyphs">2.0</text>
<text x="2180.5" y="2776.4" font-size="42" fill="#000" textLength="58.0" lengthAdjust="spacingAndGlyphs">2.0</text>
<text x="1263.8" y="2848.8" font-size="42" fill="#000" textLength="163.0" lengthAdjust="spacingAndGlyphs"><tspan class="h" font-size="34.9" baseline-shift="4.2" stroke="#000" stroke-width="0.59" stroke-linejoin="round">ㄴ</tspan>9<tspan class="h" font-size="34.9" baseline-shift="4.2" stroke="#000" stroke-width="0.59" stroke-linejoin="round">월 전망</tspan></text>
<text x="1553.0" y="2848.8" font-size="42" fill="#000" textLength="58.0" lengthAdjust="spacingAndGlyphs">3.0</text>
<text x="1709.5" y="2848.8" font-size="42" fill="#000" textLength="59.0" lengthAdjust="spacingAndGlyphs">2.6</text>
<text x="1867.0" y="2848.8" font-size="42" fill="#000" textLength="59.0" lengthAdjust="spacingAndGlyphs">2.1</text>
<text x="2024.0" y="2848.8" font-size="42" fill="#000" textLength="58.0" lengthAdjust="spacingAndGlyphs">2.0</text>
<text x="2180.5" y="2848.8" font-size="42" fill="#000" textLength="58.0" lengthAdjust="spacingAndGlyphs">2.0</text>
<text x="1254.4" y="2921.2" font-size="42" fill="#000" textLength="209.0" lengthAdjust="spacingAndGlyphs"><tspan class="h" font-size="34.9" baseline-shift="4.2" stroke="#000" stroke-width="0.59" stroke-linejoin="round">핵심</tspan>PCE<tspan class="h" font-size="34.9" baseline-shift="4.2" stroke="#000" stroke-width="0.59" stroke-linejoin="round">물가</tspan></text>
<text x="1553.0" y="2921.2" font-size="42" fill="#000" textLength="58.0" lengthAdjust="spacingAndGlyphs">3.0</text>
<text x="1709.5" y="2921.2" font-size="42" fill="#000" textLength="59.0" lengthAdjust="spacingAndGlyphs">2.5</text>
<text x="1867.0" y="2921.2" font-size="42" fill="#000" textLength="59.0" lengthAdjust="spacingAndGlyphs">2.1</text>
<text x="2024.0" y="2921.2" font-size="42" fill="#000" textLength="58.0" lengthAdjust="spacingAndGlyphs">2.0</text>
<text x="1263.8" y="2993.6" font-size="42" fill="#000" textLength="163.0" lengthAdjust="spacingAndGlyphs"><tspan class="h" font-size="34.9" baseline-shift="4.2" stroke="#000" stroke-width="0.59" stroke-linejoin="round">ㄴ</tspan>9<tspan class="h" font-size="34.9" baseline-shift="4.2" stroke="#000" stroke-width="0.59" stroke-linejoin="round">월 전망</tspan></text>
<text x="1553.0" y="2993.6" font-size="42" fill="#000" textLength="59.0" lengthAdjust="spacingAndGlyphs">3.1</text>
<text x="1709.5" y="2993.6" font-size="42" fill="#000" textLength="59.0" lengthAdjust="spacingAndGlyphs">2.6</text>
<text x="1867.0" y="2993.6" font-size="42" fill="#000" textLength="59.0" lengthAdjust="spacingAndGlyphs">2.1</text>
<text x="2024.0" y="2993.6" font-size="42" fill="#000" textLength="58.0" lengthAdjust="spacingAndGlyphs">2.0</text>
<text x="1254.4" y="3066.0" font-size="42" fill="#000" textLength="139.0" lengthAdjust="spacingAndGlyphs"><tspan class="h" font-size="34.9" baseline-shift="4.2" stroke="#000" stroke-width="0.59" stroke-linejoin="round">기준금리</tspan></text>
<text x="1553.0" y="3066.0" font-size="42" fill="#000" textLength="59.0" lengthAdjust="spacingAndGlyphs">3.6</text>
<text x="1709.5" y="3066.0" font-size="42" fill="#000" textLength="58.0" lengthAdjust="spacingAndGlyphs">3.4</text>
<text x="1867.0" y="3066.0" font-size="42" fill="#000" textLength="59.0" lengthAdjust="spacingAndGlyphs">3.1</text>
<text x="2024.0" y="3066.0" font-size="42" fill="#000" textLength="59.0" lengthAdjust="spacingAndGlyphs">3.1</text>
<text x="2180.5" y="3066.0" font-size="42" fill="#000" textLength="59.0" lengthAdjust="spacingAndGlyphs">3.3</text>
<text x="1263.8" y="3138.4" font-size="42" fill="#000" textLength="163.0" lengthAdjust="spacingAndGlyphs"><tspan class="h" font-size="34.9" baseline-shift="4.2" stroke="#000" stroke-width="0.59" stroke-linejoin="round">ㄴ</tspan>9<tspan class="h" font-size="34.9" baseline-shift="4.2" stroke="#000" stroke-width="0.59" stroke-linejoin="round">월 전망</tspan></text>
<text x="1553.0" y="3138.4" font-size="42" fill="#000" textLength="59.0" lengthAdjust="spacingAndGlyphs">3.6</text>
<text x="1709.5" y="3138.4" font-size="42" fill="#000" textLength="58.0" lengthAdjust="spacingAndGlyphs">3.4</text>
<text x="1867.0" y="3138.4" font-size="42" fill="#000" textLength="59.0" lengthAdjust="spacingAndGlyphs">3.1</text>
<text x="2024.0" y="3138.4" font-size="42" fill="#000" textLength="59.0" lengthAdjust="spacingAndGlyphs">3.1</text>
<text x="2180.5" y="3138.4" font-size="42" fill="#000" textLength="59.0" lengthAdjust="spacingAndGlyphs">3.3</text>
<rect x="148.0" y="3257.0" width="2126.0" height="9.0" fill="#0346dc"/>
<text x="153.0" y="3353.0" font-size="50" fill="#0346dc" textLength="465.5" lengthAdjust="spacingAndGlyphs"><tspan stroke="#0346dc" stroke-width="1.60" stroke-linejoin="round">www.samsungfund.com</tspan></text>
<text x="1201.0" y="3354.6" font-size="40" fill="#000" textLength="23.0" lengthAdjust="spacingAndGlyphs">1</text>
<text x="1955.0" y="3362.6" font-size="75" fill="#0346dc" font-weight="bold" textLength="327.0" lengthAdjust="spacingAndGlyphs"><tspan class="h" font-size="62.2" baseline-shift="7.5" stroke="#0346dc" stroke-width="2.00" stroke-linejoin="round">삼성자산운용</tspan></text>
</svg>
<script>
(function(){try{var c=document.createElement('canvas');c.width=64;c.height=64;var x=c.getContext('2d');
function g(ch){x.clearRect(0,0,64,64);x.font='44px "Liberation Sans", sans-serif';x.fillStyle='#000';x.fillText(ch,4,50);return Array.prototype.join.call(x.getImageData(0,0,64,64).data,'');}
var a=g('가'),b=g('힣'),z=g('리');
if(a===b&&b===z){document.documentElement.className+=' tofu';}}catch(e){}})();
</script>
</body></html>
